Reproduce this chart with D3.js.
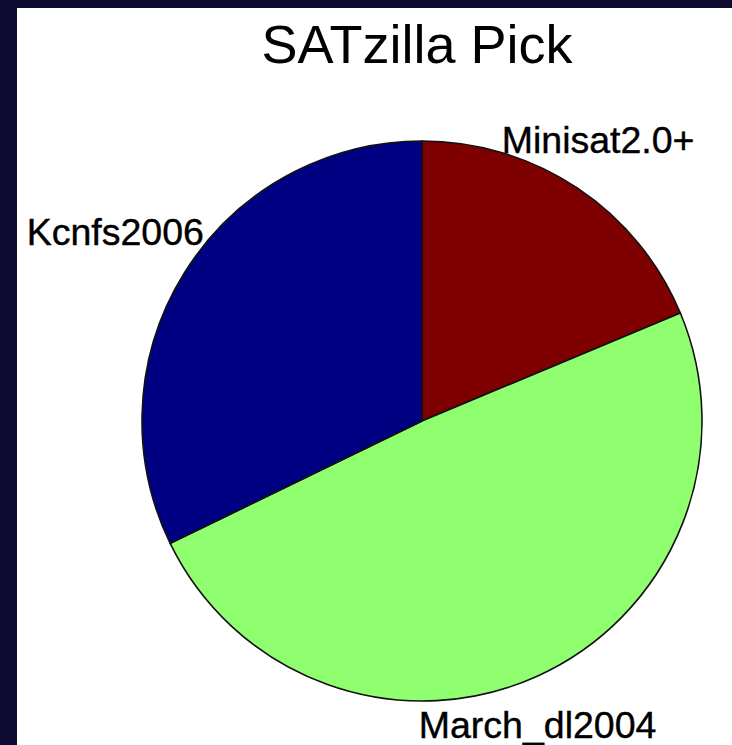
<!DOCTYPE html>
<html>
<head>
<meta charset="utf-8">
<script src="https://cdn.jsdelivr.net/npm/d3@7"></script>
<style>
  body { margin: 0; background: #0e0b33; }
  svg { display: block; }
  text { font-family: "Liberation Sans", Arial, sans-serif; fill: #000; }
</style>
</head>
<body>
<div id="container"></div>
<script>
// slice data, clockwise from 12 o'clock
let names = ["Minisat2.0+", "March_dl2004", "Kcnfs2006"]
let shares = [18.7, 49.1, 32.2]
let colors = ["#7f0000", "#8fff6f", "#000082"]

function drawChart() {
    let width = 732
    let height = 745
    let cx = 422, cy = 421, r = 280

    let data = names.map((n, i) => ({name: n, value: shares[i], color: colors[i]}))

    let svg = d3.select("#container")
        .append("svg")
        .attr("width", width)
        .attr("height", height)

    // white plot panel
    svg.append("rect")
        .attr("x", 17)
        .attr("y", 8)
        .attr("width", width - 17)
        .attr("height", height - 8)
        .attr("fill", "#fff")

    svg.append("text")
        .attr("x", 417)
        .attr("y", 63)
        .attr("text-anchor", "middle")
        .attr("font-size", 54)
        .text("SATzilla Pick")

    let pie = d3.pie().sort(null).value(d => d.value)
    let arc = d3.arc().innerRadius(0).outerRadius(r)
    let arcs = pie(data)

    let g = svg.append("g")
        .attr("transform", `translate(${cx},${cy})`)

    g.selectAll("path")
        .data(arcs)
        .join("path")
            .attr("d", arc)
            .attr("fill", d => d.data.color)
            .attr("stroke", "#111")
            .attr("stroke-width", 1.6)

    // labels sit just outside the rim, nudged like the original
    let labelArc = d3.arc().innerRadius(r * 1.1).outerRadius(r * 1.1)
    let nudge = [
        {dx: -91, dy: -12, anchor: "start"},
        {dx: -130, dy: 36, anchor: "start"},
        {dx: 43, dy: -13, anchor: "end"}
    ]

    g.selectAll("text.label")
        .data(arcs)
        .join("text")
            .attr("class", "label")
            .attr("x", (d, i) => labelArc.centroid(d)[0] + nudge[i].dx)
            .attr("y", (d, i) => labelArc.centroid(d)[1] + nudge[i].dy)
            .attr("text-anchor", (d, i) => nudge[i].anchor)
            .attr("font-size", 37.5)
            .attr("stroke", "#000")
            .attr("stroke-width", 0.4)
            .text(d => d.data.name)

    return svg.node()
}

drawChart()
</script>
</body>
</html>
